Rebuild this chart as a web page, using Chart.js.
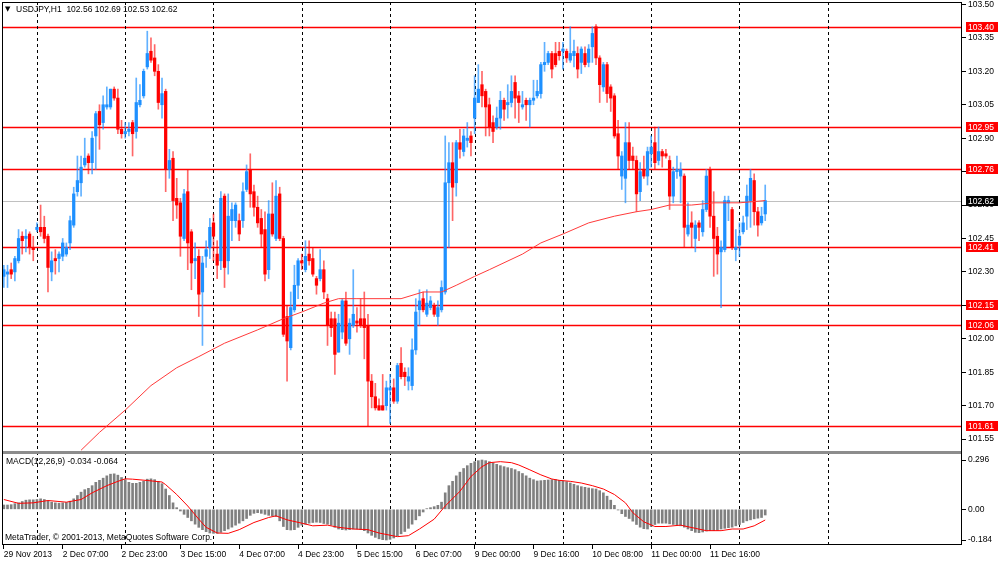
<!DOCTYPE html>
<html>
<head>
<meta charset="utf-8">
<title>USDJPY,H1</title>
<script src="https://cdn.jsdelivr.net/npm/chart.js@4.4.1/dist/chart.umd.min.js"></script>
<style>
  html, body { margin: 0; padding: 0; background: #fff; }
  #wrap { position: relative; width: 1000px; height: 562px; }
</style>
</head>
<body>
<div id="wrap"><canvas id="chart"></canvas></div>
<script>
// USDJPY H1 candles
const opens = [
  102.28, 102.29, 102.31, 102.30, 102.35, 102.46, 102.45, 102.47, 102.41, 102.49,
  102.50, 102.50, 102.46, 102.30, 102.36, 102.36, 102.37, 102.38, 102.43, 102.51,
  102.66, 102.70, 102.78, 102.82, 102.79, 102.91, 103.02, 102.97, 103.04, 103.04,
  103.12, 103.08, 102.94, 102.92, 102.93, 102.97, 102.93, 103.05, 103.09, 103.22,
  103.29, 103.26, 103.20, 103.05, 103.11, 102.76, 102.81, 102.63, 102.61, 102.45,
  102.66, 102.48, 102.35, 102.37, 102.21, 102.37, 102.41, 102.52, 102.38, 102.35,
  102.64, 102.35, 102.53, 102.53, 102.53, 102.53, 102.67, 102.76, 102.66, 102.59,
  102.54, 102.49, 102.31, 102.56, 102.45, 102.65, 102.45, 102.10, 101.96, 102.13,
  102.24, 102.35, 102.31, 102.38, 102.36, 102.27, 102.27, 102.31, 102.18, 102.09,
  102.09, 101.94, 102.03, 102.17, 102.00, 102.06, 102.08, 102.09, 102.09, 102.06,
  101.81, 101.74, 101.70, 101.70, 101.70, 101.77, 101.78, 101.72, 101.89, 101.85,
  101.81, 101.79, 101.95, 102.13, 102.18, 102.11, 102.14, 102.15, 102.10, 102.13,
  102.21, 102.70, 102.79, 102.70, 102.88, 102.84, 102.89, 102.91, 102.99, 103.06,
  103.14, 103.11, 103.05, 102.97, 102.95, 102.99, 103.07, 103.05, 103.06, 103.15,
  103.09, 103.04, 103.07, 103.05, 103.07, 103.09, 103.10, 103.23, 103.24, 103.28,
  103.28, 103.29, 103.29, 103.29, 103.25, 103.27, 103.28, 103.24, 103.28, 103.24,
  103.31, 103.40, 103.26, 103.13, 103.23, 103.13, 103.09, 102.92, 102.73, 102.72,
  102.88, 102.82, 102.80, 102.66, 102.76, 102.73, 102.83, 102.88, 102.80, 102.84,
  102.83, 102.80, 102.64, 102.75, 102.73, 102.73, 102.47, 102.52, 102.45, 102.52,
  102.48, 102.58, 102.76, 102.55, 102.46, 102.39, 102.40, 102.61, 102.58, 102.40,
  102.42, 102.48, 102.55, 102.62, 102.71, 102.57, 102.52, 102.56
];
const highs = [
  102.33, 102.33, 102.34, 102.37, 102.49, 102.48, 102.49, 102.48, 102.46, 102.52,
  102.60, 102.55, 102.47, 102.39, 102.40, 102.39, 102.45, 102.43, 102.55, 102.68,
  102.82, 102.82, 102.90, 102.83, 102.93, 103.02, 103.05, 103.09, 103.13, 103.12,
  103.13, 103.12, 102.98, 102.97, 102.97, 102.98, 103.17, 103.14, 103.21, 103.38,
  103.35, 103.32, 103.23, 103.17, 103.12, 102.85, 102.84, 102.72, 102.63, 102.67,
  102.76, 102.49, 102.43, 102.40, 102.37, 102.44, 102.54, 102.56, 102.44, 102.66,
  102.65, 102.65, 102.61, 102.61, 102.56, 102.70, 102.78, 102.83, 102.69, 102.64,
  102.58, 102.57, 102.62, 102.70, 102.71, 102.68, 102.46, 102.15, 102.21, 102.33,
  102.36, 102.38, 102.44, 102.44, 102.41, 102.28, 102.40, 102.35, 102.20, 102.12,
  102.12, 102.11, 102.18, 102.21, 102.09, 102.31, 102.14, 102.18, 102.21, 102.11,
  101.84, 101.80, 101.73, 101.84, 101.81, 101.84, 101.82, 101.89, 101.96, 101.87,
  101.87, 102.00, 102.18, 102.22, 102.21, 102.22, 102.19, 102.16, 102.17, 102.26,
  102.91, 102.88, 102.88, 102.89, 102.94, 102.94, 102.97, 102.93, 103.18, 103.23,
  103.20, 103.12, 103.08, 103.00, 103.04, 103.11, 103.08, 103.14, 103.18, 103.18,
  103.11, 103.11, 103.08, 103.08, 103.16, 103.16, 103.24, 103.33, 103.29, 103.29,
  103.33, 103.33, 103.33, 103.30, 103.40, 103.34, 103.31, 103.31, 103.31, 103.32,
  103.40, 103.41, 103.27, 103.24, 103.24, 103.14, 103.10, 102.98, 102.84, 102.97,
  102.97, 102.86, 102.82, 102.79, 102.82, 102.86, 102.91, 102.95, 102.95, 102.85,
  102.85, 102.82, 102.77, 102.82, 102.79, 102.74, 102.61, 102.57, 102.53, 102.53,
  102.62, 102.76, 102.77, 102.66, 102.50, 102.44, 102.64, 102.64, 102.59, 102.49,
  102.52, 102.55, 102.69, 102.76, 102.74, 102.59, 102.59, 102.69
];
const lows = [
  102.23, 102.23, 102.27, 102.26, 102.34, 102.38, 102.39, 102.38, 102.35, 102.48,
  102.46, 102.43, 102.21, 102.26, 102.29, 102.30, 102.35, 102.37, 102.40, 102.50,
  102.64, 102.64, 102.77, 102.74, 102.74, 102.76, 102.85, 102.94, 103.03, 103.03,
  103.07, 102.92, 102.90, 102.90, 102.91, 102.82, 102.90, 103.04, 103.08, 103.21,
  103.24, 103.18, 103.03, 102.99, 102.66, 102.72, 102.53, 102.54, 102.37, 102.44,
  102.31, 102.22, 102.27, 102.10, 101.97, 102.32, 102.36, 102.35, 102.27, 102.31,
  102.23, 102.29, 102.44, 102.50, 102.44, 102.50, 102.66, 102.59, 102.55, 102.50,
  102.41, 102.26, 102.27, 102.46, 102.44, 102.44, 102.01, 101.81, 101.95, 102.12,
  102.18, 102.31, 102.30, 102.33, 102.28, 102.20, 102.26, 102.18, 101.97, 102.01,
  101.84, 101.94, 102.00, 101.97, 101.93, 102.05, 102.03, 102.05, 101.91, 101.61,
  101.69, 101.68, 101.68, 101.68, 101.68, 101.62, 101.71, 101.71, 101.82, 101.79,
  101.77, 101.77, 101.93, 102.06, 102.12, 102.10, 102.13, 102.10, 102.06, 102.12,
  102.20, 102.41, 102.53, 102.64, 102.81, 102.82, 102.86, 102.82, 102.92, 103.06,
  103.04, 102.91, 102.91, 102.88, 102.94, 102.94, 102.98, 102.99, 103.04, 102.99,
  102.97, 103.03, 102.98, 102.95, 103.05, 103.08, 103.08, 103.20, 103.23, 103.17,
  103.22, 103.25, 103.21, 103.24, 103.24, 103.22, 103.17, 103.19, 103.22, 103.22,
  103.24, 103.23, 103.06, 103.11, 103.06, 103.02, 102.90, 102.76, 102.67, 102.61,
  102.76, 102.76, 102.57, 102.62, 102.72, 102.69, 102.77, 102.76, 102.78, 102.77,
  102.81, 102.58, 102.61, 102.72, 102.61, 102.41, 102.46, 102.41, 102.39, 102.44,
  102.46, 102.57, 102.50, 102.28, 102.29, 102.14, 102.39, 102.53, 102.40, 102.35,
  102.37, 102.47, 102.49, 102.50, 102.51, 102.46, 102.51, 102.53
];
const closes = [
  102.31, 102.30, 102.29, 102.36, 102.45, 102.44, 102.46, 102.41, 102.40, 102.50,
  102.48, 102.45, 102.32, 102.35, 102.35, 102.38, 102.43, 102.41, 102.53, 102.65,
  102.71, 102.77, 102.81, 102.79, 102.90, 103.01, 102.96, 103.05, 103.05, 103.12,
  103.08, 102.94, 102.92, 102.93, 102.94, 102.92, 103.06, 103.07, 103.20, 103.28,
  103.25, 103.20, 103.06, 103.10, 102.76, 102.80, 102.62, 102.60, 102.46, 102.65,
  102.43, 102.34, 102.36, 102.20, 102.34, 102.40, 102.50, 102.46, 102.33, 102.63,
  102.32, 102.55, 102.58, 102.60, 102.47, 102.66, 102.75, 102.65, 102.59, 102.52,
  102.47, 102.29, 102.56, 102.47, 102.64, 102.45, 102.02, 101.99, 102.14, 102.24,
  102.35, 102.34, 102.37, 102.35, 102.29, 102.24, 102.31, 102.21, 102.06, 102.05,
  101.93, 102.07, 102.17, 101.98, 102.07, 102.11, 102.07, 102.06, 102.05, 101.81,
  101.74, 101.69, 101.68, 101.68, 101.78, 101.78, 101.72, 101.88, 101.83, 101.83,
  101.83, 101.95, 102.12, 102.17, 102.13, 102.16, 102.17, 102.11, 102.14, 102.23,
  102.70, 102.79, 102.68, 102.88, 102.85, 102.91, 102.90, 102.88, 103.08, 103.12,
  103.09, 103.04, 102.95, 102.93, 102.99, 103.07, 103.03, 103.06, 103.11, 103.08,
  103.06, 103.05, 103.05, 103.07, 103.08, 103.11, 103.23, 103.24, 103.28, 103.21,
  103.23, 103.27, 103.30, 103.26, 103.28, 103.29, 103.21, 103.30, 103.23, 103.30,
  103.37, 103.26, 103.14, 103.23, 103.10, 103.08, 102.91, 102.82, 102.82, 102.88,
  102.80, 102.80, 102.65, 102.75, 102.73, 102.84, 102.86, 102.79, 102.84, 102.82,
  102.82, 102.64, 102.75, 102.76, 102.76, 102.50, 102.51, 102.50, 102.51, 102.50,
  102.58, 102.73, 102.55, 102.45, 102.38, 102.41, 102.62, 102.62, 102.41, 102.41,
  102.46, 102.52, 102.64, 102.72, 102.57, 102.51, 102.55, 102.62
];

// moving average, read at a handful of bars (bar index -> price)
const maBars = [21, 26, 33, 40, 47, 53, 60, 69, 76, 81, 87, 91, 96, 108, 114, 119, 123, 128, 132, 141, 146, 152, 159, 166, 172, 176, 181, 187, 193, 200, 207];
const maValues = [101.50, 101.58, 101.68, 101.79, 101.87, 101.92, 101.98, 102.04, 102.09, 102.12, 102.16, 102.18, 102.18, 102.18, 102.21, 102.21, 102.24, 102.28, 102.31, 102.38, 102.43, 102.47, 102.52, 102.55, 102.57, 102.58, 102.60, 102.60, 102.61, 102.61, 102.62];

// MACD(12,26,9) histogram, one value per bar
const macdHist = [
  0.026, 0.026, 0.028, 0.034, 0.039, 0.047, 0.055, 0.057, 0.057, 0.059,
  0.063, 0.059, 0.049, 0.043, 0.039, 0.037, 0.039, 0.041, 0.049, 0.063,
  0.083, 0.103, 0.118, 0.126, 0.142, 0.162, 0.174, 0.187, 0.201, 0.211,
  0.213, 0.205, 0.191, 0.178, 0.162, 0.156, 0.156, 0.162, 0.168, 0.181,
  0.183, 0.178, 0.168, 0.154, 0.122, 0.083, 0.039, 0.010, -0.010, -0.030,
  -0.049, -0.069, -0.089, -0.108, -0.122, -0.134, -0.142, -0.144, -0.144, -0.138,
  -0.128, -0.118, -0.107, -0.095, -0.083, -0.069, -0.055, -0.036, -0.024, -0.020,
  -0.024, -0.030, -0.036, -0.039, -0.043, -0.069, -0.103, -0.122, -0.124, -0.122,
  -0.108, -0.095, -0.089, -0.083, -0.079, -0.077, -0.079, -0.085, -0.089, -0.095,
  -0.108, -0.118, -0.122, -0.124, -0.122, -0.118, -0.118, -0.122, -0.128, -0.142,
  -0.156, -0.168, -0.177, -0.182, -0.184, -0.180, -0.172, -0.160, -0.147, -0.133,
  -0.114, -0.089, -0.063, -0.039, -0.016, 0.004, 0.010, 0.016, 0.024, 0.043,
  0.099, 0.142, 0.168, 0.201, 0.223, 0.245, 0.262, 0.276, 0.286, 0.292,
  0.296, 0.292, 0.286, 0.278, 0.270, 0.262, 0.256, 0.250, 0.245, 0.238,
  0.227, 0.215, 0.201, 0.187, 0.178, 0.170, 0.172, 0.174, 0.176, 0.178,
  0.178, 0.174, 0.170, 0.166, 0.158, 0.150, 0.142, 0.136, 0.132, 0.128,
  0.124, 0.122, 0.112, 0.099, 0.079, 0.055, 0.024, -0.004, -0.026, -0.043,
  -0.055, -0.071, -0.091, -0.107, -0.116, -0.118, -0.103, -0.091, -0.083, -0.083,
  -0.083, -0.087, -0.091, -0.095, -0.099, -0.107, -0.118, -0.128, -0.138, -0.140,
  -0.136, -0.130, -0.128, -0.128, -0.126, -0.118, -0.114, -0.110, -0.107, -0.099,
  -0.091, -0.079, -0.069, -0.063, -0.057, -0.053, -0.049, -0.034
];
// MACD signal line, read at a handful of bars
const signalBars = [0, 4, 8, 12, 17, 21, 24, 28, 31, 33, 35, 39, 43, 44, 47, 50, 53, 55, 58, 61, 64, 68, 72, 74, 77, 81, 84, 88, 91, 95, 99, 102, 107, 110, 113, 117, 120, 124, 127, 130, 132, 135, 138, 140, 143, 146, 149, 151, 154, 157, 160, 163, 166, 169, 171, 174, 177, 180, 184, 188, 191, 195, 198, 201, 204, 207];
const signalValues = [0.059, 0.036, 0.039, 0.053, 0.043, 0.059, 0.099, 0.142, 0.168, 0.183, 0.181, 0.173, 0.164, 0.148, 0.089, 0.020, -0.059, -0.108, -0.142, -0.144, -0.122, -0.079, -0.049, -0.039, -0.063, -0.083, -0.099, -0.095, -0.108, -0.118, -0.122, -0.142, -0.164, -0.158, -0.118, -0.059, 0.020, 0.108, 0.197, 0.256, 0.280, 0.286, 0.280, 0.266, 0.237, 0.207, 0.182, 0.174, 0.168, 0.158, 0.142, 0.122, 0.089, 0.039, -0.020, -0.075, -0.103, -0.103, -0.095, -0.114, -0.128, -0.128, -0.118, -0.118, -0.099, -0.064];

// time axis: a label every 16 bars, empty slots on the right (chart shift)
const tickLabels = ['29 Nov 2013', '2 Dec 07:00', '2 Dec 23:00', '3 Dec 15:00', '4 Dec 07:00', '4 Dec 23:00', '5 Dec 15:00', '6 Dec 07:00', '9 Dec 00:00', '9 Dec 16:00', '10 Dec 08:00', '11 Dec 00:00', '11 Dec 16:00'];
const tickEvery = 16;
const slotCount = 261;
const daySeparators = [9, 33, 57, 81, 105, 128, 152, 176, 200, 224];

// horizontal lines and axis ticks
const levels = [103.40, 102.95, 102.76, 102.41, 102.15, 102.06, 101.61];
const bid = 102.62;
const priceTicks = [103.50, 103.35, 103.20, 103.05, 102.90, 102.75, 102.60, 102.45, 102.30, 102.15, 102.00, 101.85, 101.70, 101.55];
const macdTicks = [0.296, 0, -0.184];

const titleText = 'USDJPY,H1  102.56 102.69 102.53 102.62';
const macdText = 'MACD(12,26,9) -0.034 -0.064';
const copyText = 'MetaTrader, \u00A9 2001-2013, MetaQuotes Software Corp.';

const FONT = '"Liberation Sans", Arial, sans-serif';
const UP = '#1e90ff';
const DOWN = '#ff0000';

const labels = Array.from({length: slotCount}, (_, i) =>
  i % tickEvery === 0 && tickLabels[i / tickEvery] ? tickLabels[i / tickEvery] : '');
const bodies = opens.map((o, i) => [Math.min(o, closes[i]), Math.max(o, closes[i])]);
const wicks = lows.map((l, i) => [l, highs[i]]);
const isUp = i => closes[i] >= opens[i];

function fromKnots(bars, values) {
  const out = new Array(opens.length).fill(null);
  bars.forEach((b, k) => { out[b] = values[k]; });
  return out;
}

const mt4Overlay = {
  id: 'mt4Overlay',
  beforeDatasetsDraw(chart) {
    const {ctx, chartArea: a, scales: {x, y}} = chart;
    const hline = py => {
      const yy = Math.round(py) + 0.5;
      ctx.beginPath(); ctx.moveTo(a.left, yy); ctx.lineTo(a.right, yy); ctx.stroke();
    };
    ctx.save();
    ctx.lineWidth = 1;
    ctx.strokeStyle = '#c0c0c0';
    hline(y.getPixelForValue(bid));
    ctx.strokeStyle = '#ff0000';
    ctx.lineWidth = 1.6;
    levels.forEach(v => hline(y.getPixelForValue(v)));
    // day separators go over the level lines
    ctx.lineWidth = 1;
    ctx.strokeStyle = '#000';
    ctx.setLineDash([3, 3]);
    daySeparators.forEach(i => {
      const px = Math.round(x.getPixelForValue(i)) + 0.5;
      ctx.beginPath(); ctx.moveTo(px, a.top); ctx.lineTo(px, a.bottom); ctx.stroke();
    });
    ctx.restore();
  },
  afterDraw(chart) {
    const {ctx, chartArea: a, scales: {y, macd}} = chart;
    ctx.save();
    // pane separator
    const sep = Math.round(macd.top);
    ctx.fillStyle = '#8c8c8c';
    ctx.fillRect(a.left, sep - 1, a.right - a.left, 3);
    // frame
    ctx.strokeStyle = '#000';
    ctx.lineWidth = 1;
    ctx.strokeRect(a.left + 0.5, a.top + 0.5, a.right - a.left - 1, a.bottom - a.top - 1);
    // price tags on the axis
    ctx.font = '8.5px ' + FONT;
    ctx.textBaseline = 'middle';
    const tag = (v, bg) => {
      const py = Math.round(y.getPixelForValue(v));
      ctx.fillStyle = bg;
      ctx.fillRect(a.right + 4, py - 5, 32, 10);
      ctx.fillStyle = '#fff';
      ctx.fillText(v.toFixed(2), a.right + 6, py + 0.5);
    };
    levels.forEach(v => tag(v, '#ff0000'));
    tag(bid, '#000');
    // captions
    ctx.fillStyle = '#000';
    ctx.font = '7px "DejaVu Sans", sans-serif';
    ctx.fillText('\u25BC', 5, 9);
    ctx.font = '8.5px ' + FONT;
    ctx.fillText(titleText, 16, 9.5);
    ctx.fillText(macdText, 6, macd.top + 10);
    ctx.fillText(copyText, 5, a.bottom - 7);
    ctx.restore();
  }
};

const tickFont = {family: FONT, size: 8.5};

new Chart(document.getElementById('chart').getContext('2d'), {
  type: 'bar',
  data: {
    labels: labels,
    datasets: [
      {
        label: 'MA', type: 'line', data: fromKnots(maBars, maValues), yAxisID: 'y',
        borderColor: '#ff3a3a', borderWidth: 1, pointRadius: 0, spanGaps: true, order: 0
      },
      {
        label: 'body', data: bodies, yAxisID: 'y', grouped: false, barThickness: 2.6, minBarLength: 1,
        backgroundColor: c => isUp(c.dataIndex) ? UP : DOWN, order: 1
      },
      {
        label: 'wick', data: wicks, yAxisID: 'y', grouped: false, barThickness: 1,
        backgroundColor: c => isUp(c.dataIndex) ? 'rgba(30,144,255,0.7)' : 'rgba(255,0,0,0.6)', order: 2
      },
      {
        label: 'signal', type: 'line', data: fromKnots(signalBars, signalValues), yAxisID: 'macd',
        borderColor: '#ff0000', borderWidth: 1, pointRadius: 0, spanGaps: true, order: 0
      },
      {
        label: 'histogram', data: macdHist, yAxisID: 'macd', grouped: false, barThickness: 2,
        backgroundColor: '#808080', order: 3
      }
    ]
  },
  options: {
    responsive: true,
    maintainAspectRatio: false,
    animation: false,
    events: [],
    layout: {padding: {top: 2, left: 2, right: 0, bottom: 0}},
    plugins: {legend: {display: false}, tooltip: {enabled: false}},
    scales: {
      x: {
        type: 'category',
        offset: true,
        afterBuildTicks: s => {
          s.ticks = s.ticks.filter(t => t.value % tickEvery === 0 && t.value / tickEvery < tickLabels.length);
        },
        afterFit: s => { s.height = 17; s.paddingLeft = 0; s.paddingRight = 0; },
        ticks: {autoSkip: false, maxRotation: 0, align: 'start', padding: 1, color: '#000', font: tickFont},
        grid: {display: true, drawOnChartArea: false, offset: false, tickLength: 4, color: '#000'},
        border: {display: false}
      },
      y: {
        type: 'linear', position: 'right', stack: 'panes', stackWeight: 450, weight: 0,
        min: 101.492, max: 103.511,
        afterBuildTicks: s => { s.ticks = priceTicks.map(v => ({value: v})); },
        afterFit: s => { s.width = 38; s.paddingTop = 0; s.paddingBottom = 0; },
        ticks: {padding: 2, color: '#000', font: tickFont, callback: v => v.toFixed(2)},
        grid: {drawOnChartArea: false, tickLength: 4, color: '#000'},
        border: {display: false}
      },
      macd: {
        type: 'linear', position: 'right', stack: 'panes', stackWeight: 93, weight: 1,
        min: -0.214, max: 0.344,
        afterBuildTicks: s => { s.ticks = macdTicks.map(v => ({value: v})); },
        afterFit: s => { s.width = 38; s.paddingTop = 0; s.paddingBottom = 0; },
        ticks: {padding: 2, color: '#000', font: tickFont, callback: v => v === 0 ? '0.00' : String(v)},
        grid: {drawOnChartArea: false, tickLength: 4, color: '#000'},
        border: {display: false}
      }
    }
  },
  plugins: [mt4Overlay]
});
</script>
</body>
</html>
